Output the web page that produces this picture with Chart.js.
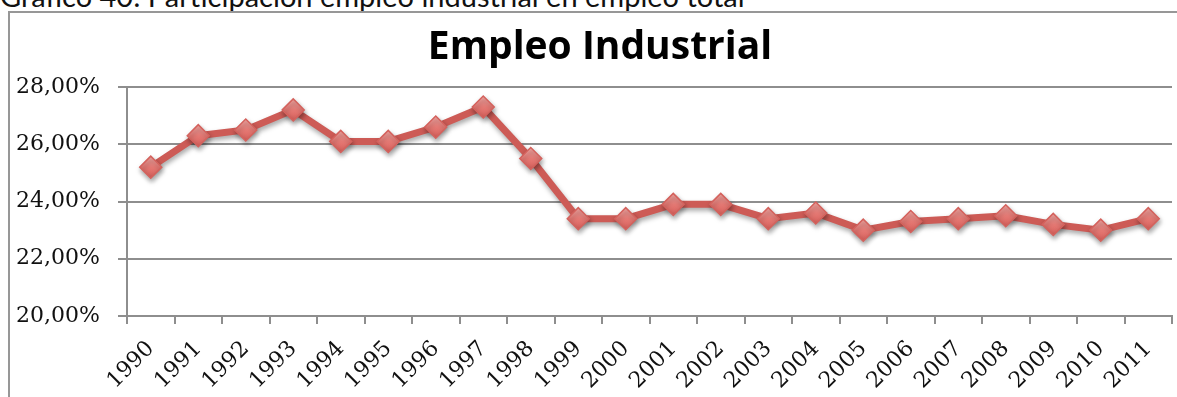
<!DOCTYPE html>
<html lang="es">
<head>
<meta charset="utf-8">
<title>Empleo Industrial</title>
<script src="https://cdn.jsdelivr.net/npm/chart.js@4"></script>
<style>
    html, body { margin: 0; padding: 0; background: #fff; overflow: hidden; }
    #caption {
        position: absolute; left: 0; top: -19px;
        font-family: Lato, sans-serif; font-size: 29px; color: #111;
        white-space: nowrap; line-height: 1;
    }
    #frame {
        position: absolute; left: 8px; top: 11px;
        width: 1200px; height: 400px;
        border: 2px solid #979797;
    }
    #wrap { position: absolute; left: 0; top: 0; width: 1200px; height: 397px; }
</style>
</head>
<body>
<div id="caption">Gráfico 40: Participación empleo industrial en empleo total</div>
<div id="frame"></div>
<div id="wrap"><canvas id="empleoChart" width="1200" height="397"></canvas></div>
<script>
// years on the x axis
const years = ['1990', '1991', '1992', '1993', '1994', '1995', '1996', '1997', '1998', '1999', '2000',
    '2001', '2002', '2003', '2004', '2005', '2006', '2007', '2008', '2009', '2010', '2011'];
// share of industrial employment in total employment, %
const empleoIndustrial = [25.2, 26.3, 26.5, 27.2, 26.1, 26.1, 26.6, 27.3, 25.5, 23.4, 23.4,
    23.9, 23.9, 23.4, 23.6, 23.0, 23.3, 23.4, 23.5, 23.2, 23.0, 23.4];
const yTicks = [20, 22, 24, 26, 28];
const chartTitle = 'Empleo Industrial';

const gridGray = '#8e8e8e';
const lineRed = '#cd5b56';

// soft drop shadow under the line and markers
const shadowPlugin = {
    id: 'shadow',
    beforeDatasetsDraw(chart) {
        const ctx = chart.ctx;
        ctx.save();
        ctx.shadowColor = 'rgba(0, 0, 0, 0.35)';
        ctx.shadowBlur = 5;
        ctx.shadowOffsetX = 1;
        ctx.shadowOffsetY = 3;
    },
    afterDatasetsDraw(chart) {
        chart.ctx.restore();
    }
};

// title centred on the outer frame rather than the plot
const titlePlugin = {
    id: 'frameTitle',
    afterDraw(chart) {
        const ctx = chart.ctx;
        ctx.save();
        ctx.font = 'bold 39px "Open Sans"';
        ctx.fillStyle = '#000';
        ctx.textAlign = 'center';
        ctx.textBaseline = 'alphabetic';
        ctx.fillText(chartTitle, 600, 59);
        ctx.restore();
    }
};

function markerFill(context) {
    const chart = context.chart;
    const yScale = chart.scales.y;
    const y = yScale ? yScale.getPixelForValue(context.raw) : NaN;
    if (!isFinite(y))
        return '#e57b76';
    const g = chart.ctx.createLinearGradient(0, y - 11, 0, y + 11);
    g.addColorStop(0, '#f6aaa6');
    g.addColorStop(0.5, '#e67a75');
    g.addColorStop(1, '#d65f5a');
    return g;
}

const ctx = document.getElementById('empleoChart').getContext('2d');
new Chart(ctx, {
    type: 'line',
    data: {
        labels: years,
        datasets: [{
            data: empleoIndustrial,
            borderColor: lineRed,
            borderWidth: 7,
            tension: 0,
            pointStyle: 'rectRot',
            pointRadius: 11,
            pointBorderWidth: 1.5,
            pointBorderColor: '#d4625d',
            pointBackgroundColor: markerFill
        }]
    },
    options: {
        responsive: false,
        animation: false,
        layout: { padding: { left: 0, right: 28, top: 87, bottom: 0 } },
        plugins: {
            legend: { display: false },
            tooltip: { enabled: false },
            title: { display: false }
        },
        scales: {
            x: {
                offset: true,
                grid: {
                    offset: true,
                    drawOnChartArea: false,
                    drawTicks: true,
                    tickLength: 8,
                    color: gridGray,
                    lineWidth: 2
                },
                border: { color: gridGray, width: 2 },
                ticks: {
                    maxRotation: 45,
                    minRotation: 45,
                    autoSkip: false,
                    padding: 12,
                    color: '#111',
                    font: { family: 'DejaVu Serif', size: 22 }
                },
                afterFit(scale) { scale.height = 81; }
            },
            y: {
                min: yTicks[0],
                max: yTicks[yTicks.length - 1],
                afterBuildTicks(scale) {
                    scale.ticks = yTicks.map(v => ({ value: v }));
                },
                grid: {
                    color: gridGray,
                    lineWidth: 2,
                    tickLength: 9
                },
                border: { color: gridGray, width: 2 },
                ticks: {
                    padding: 18,
                    color: '#111',
                    font: { family: 'DejaVu Serif', size: 22 },
                    callback: v => v.toFixed(2).replace('.', ',') + '%'
                },
                afterFit(scale) { scale.width = 127; }
            }
        }
    },
    plugins: [shadowPlugin, titlePlugin]
});
</script>
</body>
</html>
